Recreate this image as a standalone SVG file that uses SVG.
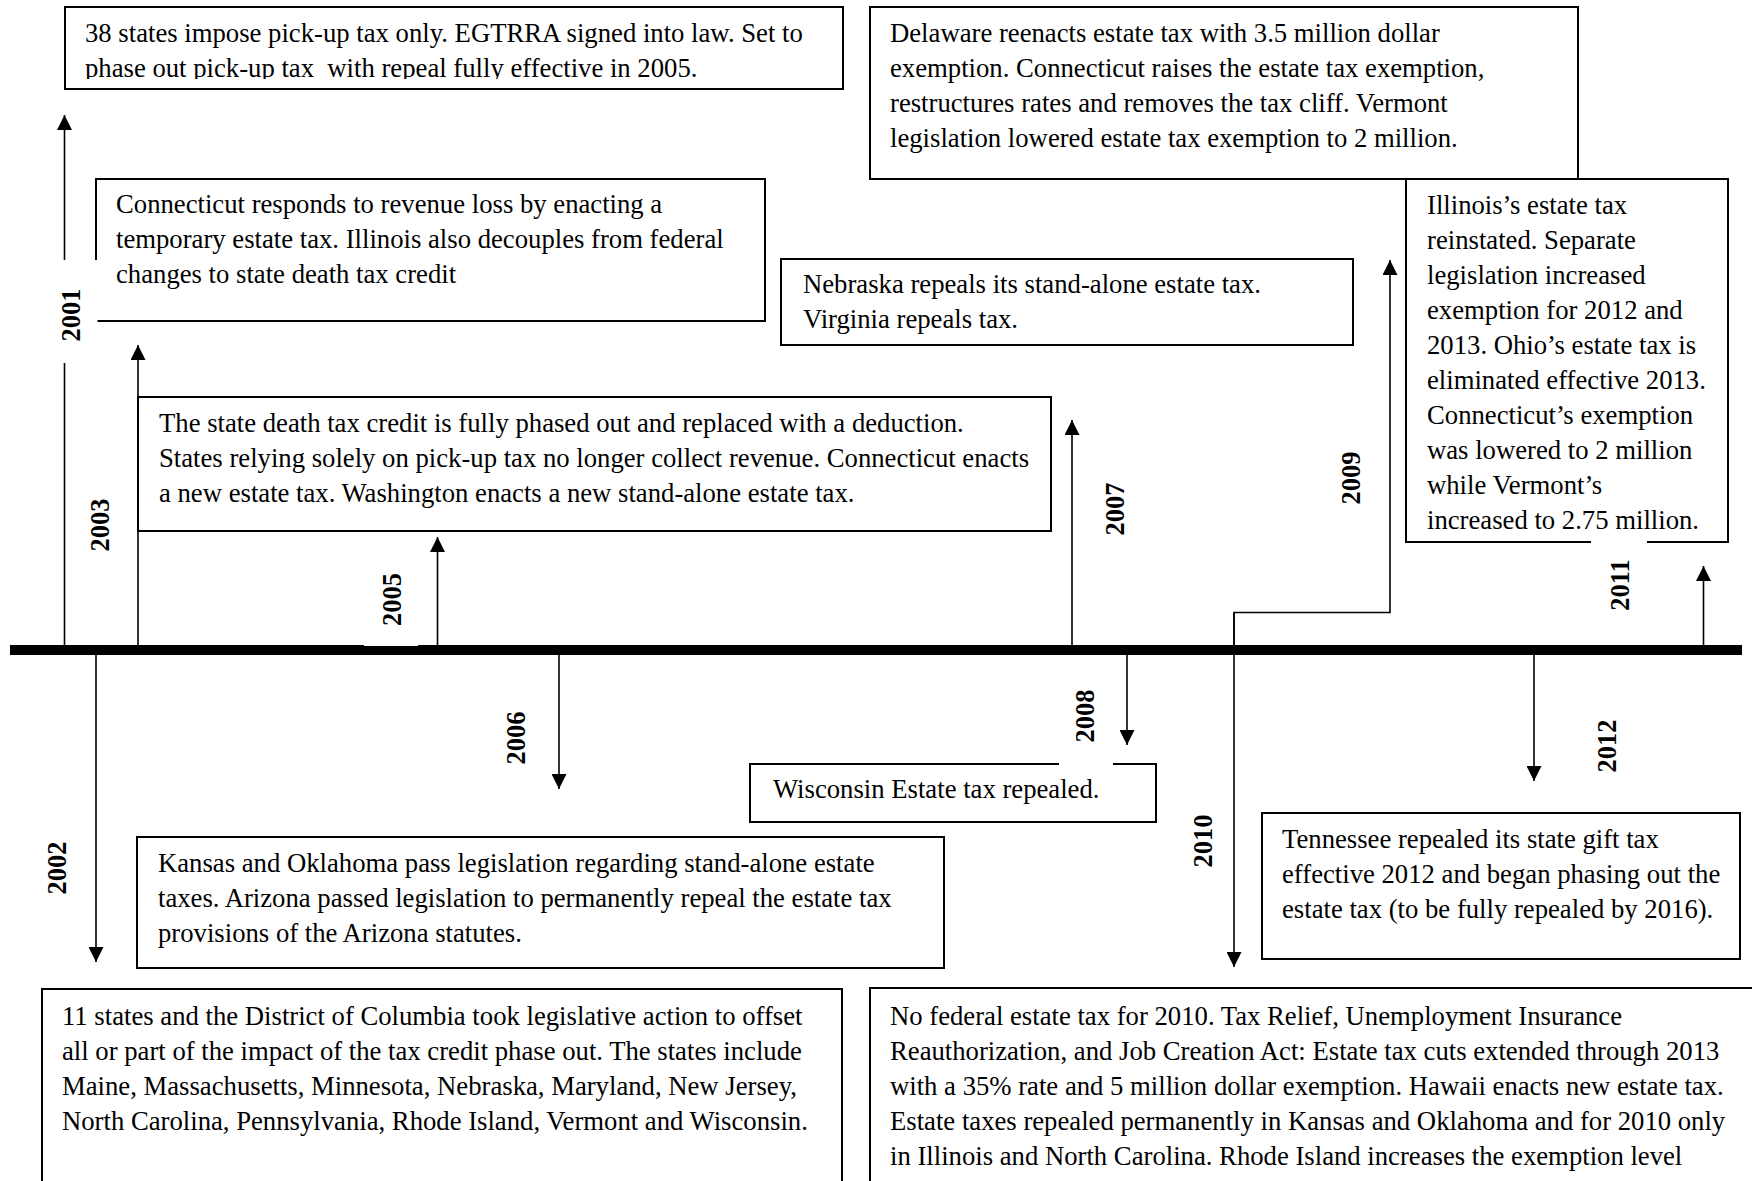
<svg xmlns="http://www.w3.org/2000/svg" width="1752" height="1181" viewBox="0 0 1752 1181">
<style>
.box{fill:#fff;stroke:#000;stroke-width:2}
.t{font-family:"Liberation Serif","Times New Roman",serif;font-size:26.7px;fill:#000}
.yr{font-family:"Liberation Serif","Times New Roman",serif;font-size:26.5px;font-weight:bold;text-anchor:middle;fill:#000}
.conn{stroke:#000;stroke-width:1.6;fill:none}
.bg{fill:#fff}
</style>
<defs>
<marker id="ah" markerUnits="userSpaceOnUse" markerWidth="15" markerHeight="15" viewBox="0 0 15 15" refX="15" refY="7.5" orient="auto"><path d="M0,0 L15,7.5 L0,15 z" fill="#000"/></marker>
<clipPath id="clipA"><rect x="65" y="7" width="778" height="72"/></clipPath>
</defs>
<rect width="1752" height="1181" fill="#fff"/>

<g id="node-2001a">
<rect class="box" x="65" y="7" width="778" height="82"/>
<g clip-path="url(#clipA)">
<text class="t" x="85" y="42">38 states impose pick-up tax only. EGTRRA signed into law. Set to</text>
<text class="t" x="85" y="77" xml:space="preserve">phase out pick-up tax  with repeal fully effective in 2005.</text>
</g>
</g>

<g id="node-2009">
<rect class="box" x="870" y="7" width="708" height="172"/>
<text class="t" x="890" y="42">Delaware reenacts estate tax with 3.5 million dollar</text>
<text class="t" x="890" y="77">exemption. Connecticut raises the estate tax exemption,</text>
<text class="t" x="890" y="112">restructures rates and removes the tax cliff. Vermont</text>
<text class="t" x="890" y="147">legislation lowered estate tax exemption to 2 million.</text>
</g>

<g id="node-2001b">
<rect class="box" x="96" y="179" width="669" height="142"/>
<text class="t" x="116" y="213">Connecticut responds to revenue loss by enacting a</text>
<text class="t" x="116" y="248">temporary estate tax. Illinois also decouples from federal</text>
<text class="t" x="116" y="283">changes to state death tax credit</text>
</g>

<g id="node-2007">
<rect class="box" x="781" y="259" width="572" height="86"/>
<text class="t" x="803" y="293">Nebraska repeals its stand-alone estate tax.</text>
<text class="t" x="803" y="328">Virginia repeals tax.</text>
</g>

<g id="node-2011">
<rect class="box" x="1406" y="179" width="322" height="363"/>
<text class="t" x="1427" y="214">Illinois’s estate tax</text>
<text class="t" x="1427" y="249">reinstated. Separate</text>
<text class="t" x="1427" y="284">legislation increased</text>
<text class="t" x="1427" y="319">exemption for 2012 and</text>
<text class="t" x="1427" y="354">2013. Ohio’s estate tax is</text>
<text class="t" x="1427" y="389">eliminated effective 2013.</text>
<text class="t" x="1427" y="424">Connecticut’s exemption</text>
<text class="t" x="1427" y="459">was lowered to 2 million</text>
<text class="t" x="1427" y="494">while Vermont’s</text>
<text class="t" x="1427" y="529">increased to 2.75 million.</text>
</g>

<g id="node-2003">
<rect class="box" x="138" y="397" width="913" height="134"/>
<text class="t" x="159" y="432">The state death tax credit is fully phased out and replaced with a deduction.</text>
<text class="t" x="159" y="467">States relying solely on pick-up tax no longer collect revenue. Connecticut enacts</text>
<text class="t" x="159" y="502">a new estate tax. Washington enacts a new stand-alone estate tax.</text>
</g>

<g id="node-2008">
<rect class="box" x="750" y="764" width="406" height="58"/>
<text class="t" x="773" y="798">Wisconsin Estate tax repealed.</text>
</g>

<g id="node-2006">
<rect class="box" x="137" y="837" width="807" height="131"/>
<text class="t" x="158" y="872">Kansas and Oklahoma pass legislation regarding stand-alone estate</text>
<text class="t" x="158" y="907">taxes. Arizona passed legislation to permanently repeal the estate tax</text>
<text class="t" x="158" y="942">provisions of the Arizona statutes.</text>
</g>

<g id="node-2012">
<rect class="box" x="1262" y="813" width="478" height="146"/>
<text class="t" x="1282" y="848">Tennessee repealed its state gift tax</text>
<text class="t" x="1282" y="883">effective 2012 and began phasing out the</text>
<text class="t" x="1282" y="918">estate tax (to be fully repealed by 2016).</text>
</g>

<g id="node-2002">
<rect class="box" x="42" y="989" width="800" height="230"/>
<text class="t" x="62" y="1025">11 states and the District of Columbia took legislative action to offset</text>
<text class="t" x="62" y="1060">all or part of the impact of the tax credit phase out. The states include</text>
<text class="t" x="62" y="1095">Maine, Massachusetts, Minnesota, Nebraska, Maryland, New Jersey,</text>
<text class="t" x="62" y="1130">North Carolina, Pennsylvania, Rhode Island, Vermont and Wisconsin.</text>
</g>

<g id="node-2010">
<rect class="box" x="870" y="988" width="900" height="230"/>
<text class="t" x="890" y="1025">No federal estate tax for 2010. Tax Relief, Unemployment Insurance</text>
<text class="t" x="890" y="1060">Reauthorization, and Job Creation Act: Estate tax cuts extended through 2013</text>
<text class="t" x="890" y="1095">with a 35% rate and 5 million dollar exemption. Hawaii enacts new estate tax.</text>
<text class="t" x="890" y="1130">Estate taxes repealed permanently in Kansas and Oklahoma and for 2010 only</text>
<text class="t" x="890" y="1165">in Illinois and North Carolina. Rhode Island increases the exemption level</text>
</g>

<g id="connectors">
<line class="conn" x1="64.5" y1="650" x2="64.5" y2="115" marker-end="url(#ah)"/>
<line class="conn" x1="96" y1="650" x2="96" y2="962" marker-end="url(#ah)"/>
<line class="conn" x1="138" y1="650" x2="138" y2="345" marker-end="url(#ah)"/>
<line class="conn" x1="437.5" y1="650" x2="437.5" y2="537" marker-end="url(#ah)"/>
<line class="conn" x1="559" y1="650" x2="559" y2="789" marker-end="url(#ah)"/>
<line class="conn" x1="1072" y1="650" x2="1072" y2="420" marker-end="url(#ah)"/>
<line class="conn" x1="1127" y1="650" x2="1127" y2="745" marker-end="url(#ah)"/>
<path class="conn" d="M1234,650 V612.5 H1390 V260" marker-end="url(#ah)"/>
<line class="conn" x1="1234" y1="612.5" x2="1234" y2="967" marker-end="url(#ah)"/>
<line class="conn" x1="1703.5" y1="650" x2="1703.5" y2="566" marker-end="url(#ah)"/>
<line class="conn" x1="1534" y1="650" x2="1534" y2="781" marker-end="url(#ah)"/>
<rect id="timeline" x="10" y="645" width="1732" height="10" fill="#000"/>
</g>

<g id="label-2001"><rect class="bg" x="48" y="260" width="49.5" height="103"/><text class="yr" transform="translate(80,315) rotate(-90)">2001</text></g>
<g id="label-2002"><text class="yr" transform="translate(66,868) rotate(-90)">2002</text></g>
<g id="label-2003"><text class="yr" transform="translate(109,525) rotate(-90)">2003</text></g>
<g id="label-2005"><rect class="bg" x="364" y="560" width="54" height="86"/><text class="yr" transform="translate(401,599.5) rotate(-90)">2005</text></g>
<g id="label-2006"><text class="yr" transform="translate(525,738) rotate(-90)">2006</text></g>
<g id="label-2007"><text class="yr" transform="translate(1124,509) rotate(-90)">2007</text></g>
<g id="label-2008"><rect class="bg" x="1059" y="680" width="54" height="86"/><text class="yr" transform="translate(1094,716) rotate(-90)">2008</text></g>
<g id="label-2009"><text class="yr" transform="translate(1360,478) rotate(-90)">2009</text></g>
<g id="label-2010"><text class="yr" transform="translate(1212,841) rotate(-90)">2010</text></g>
<g id="label-2011"><rect class="bg" x="1591" y="540" width="56" height="80"/><text class="yr" transform="translate(1629,585) rotate(-90)">2011</text></g>
<g id="label-2012"><text class="yr" transform="translate(1616,746) rotate(-90)">2012</text></g>
</svg>
